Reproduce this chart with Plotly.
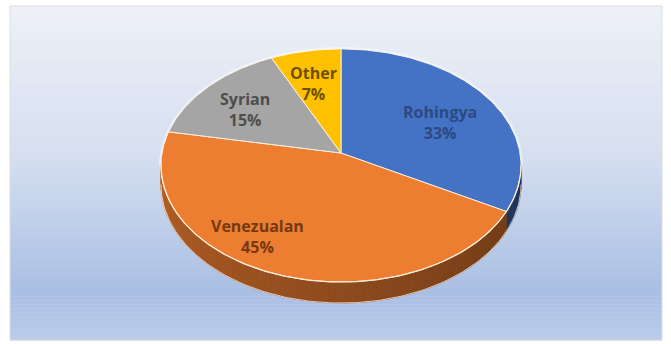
import numpy as np
import plotly.graph_objects as go

# Refugee groups and their shares (%)
groups = ["Rohingya", "Venezualan", "Syrian", "Other"]
shares = [33, 45, 15, 7]

slice_colors = ["#4472c4", "#ed7d31", "#a5a5a5", "#ffc000"]
label_colors = ["#2b4a82", "#76390f", "#4d4d4d", "#6c5200"]
# label placement inside each slice: (fraction along the slice, radius)
label_place = [(0.54, 0.63), (0.58, 0.80), (0.45, 0.68), (0.43, 0.67)]

W, H = 671, 344

# tilted disc with a little perspective
CX, CY = 341.0, 153.0     # centre of the disc on screen
AX, BY = 179.0, 115.2     # horizontal / vertical half-axes
K = 0.107                 # perspective strength
DEPTH = 18.8              # thickness of the disc


def project(theta_deg, r=1.0, drop=0.0):
    t = np.radians(theta_deg)
    X = r * np.cos(t)
    Y = r * np.sin(t)
    s = 1.0 / (1.0 + K * Y)
    return CX + AX * X * s, CY - BY * Y * s + drop * s


def hex_rgb(h):
    h = h.lstrip("#")
    return np.array([int(h[i:i + 2], 16) for i in (0, 2, 4)], dtype=float)


def rgb_str(c):
    c = np.clip(c, 0, 255).astype(int)
    return "rgb(%d,%d,%d)" % tuple(c)


fig = go.Figure()

# ---- gradient panel behind the chart
stops = [(0.0, "#eef1f8"), (0.45, "#d6dff0"), (0.86, "#a9bfe4"), (1.0, "#bccdeb")]
px0, px1, py0, py1 = 10, 662, 6, 340
n_strips = 84
for i in range(n_strips):
    f0 = i / n_strips
    f1 = (i + 1) / n_strips
    fm = (f0 + f1) / 2
    for (a, ca), (b, cb) in zip(stops[:-1], stops[1:]):
        if a <= fm <= b:
            u = (fm - a) / (b - a)
            col = hex_rgb(ca) * (1 - u) + hex_rgb(cb) * u
            break
    fig.add_shape(type="rect", xref="x", yref="y", layer="below",
                  x0=px0, x1=px1, y0=py0 + f0 * (py1 - py0),
                  y1=py0 + f1 * (py1 - py0) + 0.6,
                  fillcolor=rgb_str(col), line=dict(width=0))
fig.add_shape(type="rect", xref="x", yref="y", layer="below",
              x0=px0, x1=px1, y0=py0, y1=py1,
              fillcolor="rgba(0,0,0,0)", line=dict(color="#d9dde4", width=1))

# ---- slice angles (standard orientation, clockwise from 12 o'clock)
total = float(sum(shares))
cum = np.concatenate([[0.0], np.cumsum(shares) / total])
theta_start = 90 - 360 * cum[:-1]
theta_end = 90 - 360 * cum[1:]

# visible front arc of the rim (between the outermost left and right points)
theta_left = -180 + np.degrees(np.arcsin(K))
theta_right = -np.degrees(np.arcsin(K))

# ---- side wall, shaded by position along the front arc
for i in range(len(groups)):
    hi, lo = theta_start[i], theta_end[i]
    for shift in (0, -360, 360):
        a = max(lo, theta_left + shift)
        b = min(hi, theta_right + shift)
        if b <= a:
            continue
        nseg = max(2, int((b - a) / 2.5))
        edges = np.linspace(b, a, nseg + 1)
        base = hex_rgb(slice_colors[i])
        for j in range(nseg):
            t0, t1 = edges[j], edges[j + 1]
            ts = np.linspace(t0, t1, 4)
            xt, yt = project(ts)
            xb, yb = project(ts[::-1], drop=DEPTH)
            mid = (t0 + t1) / 2 - shift
            u = (mid - theta_left) / (theta_right - theta_left)
            shade = 0.76 - 0.32 * u
            col = rgb_str(base * shade)
            fig.add_trace(go.Scatter(
                x=np.concatenate([xt, xb, xt[:1]]),
                y=np.concatenate([yt, yb, yt[:1]]),
                mode="lines", fill="toself", fillcolor=col,
                line=dict(color=col, width=0.8),
                hoverinfo="skip", showlegend=False))

# light edge along the bottom of the wall
tb = np.linspace(theta_left, theta_right, 200)
xb, yb = project(tb, drop=DEPTH)
fig.add_trace(go.Scatter(x=xb, y=yb, mode="lines",
                         line=dict(color="rgba(255,240,225,0.75)", width=1),
                         hoverinfo="skip", showlegend=False))

# soft glow around the back of the disc
tg = np.linspace(theta_right, theta_left + 360, 300)
xg, yg = project(tg)
fig.add_trace(go.Scatter(x=xg, y=yg, mode="lines",
                         line=dict(color="rgba(255,255,255,0.45)", width=4),
                         hoverinfo="skip", showlegend=False))

# ---- top face slices
for i, g in enumerate(groups):
    ts = np.linspace(theta_start[i], theta_end[i], max(8, int(shares[i] * 4)))
    xs, ys = project(ts)
    fig.add_trace(go.Scatter(
        x=np.concatenate([[CX], xs, [CX]]),
        y=np.concatenate([[CY], ys, [CY]]),
        mode="lines", fill="toself", fillcolor=slice_colors[i],
        line=dict(color="rgba(255,246,232,0.9)", width=1),
        hoverinfo="skip", showlegend=False, name=g))

# bevel highlight along the front rim
tr = np.linspace(theta_left, theta_right, 200)
xr, yr = project(tr)
fig.add_trace(go.Scatter(x=xr, y=yr, mode="lines",
                         line=dict(color="rgba(255,236,210,0.95)", width=1.3),
                         hoverinfo="skip", showlegend=False))

# ---- data labels
for i, g in enumerate(groups):
    frac, rad = label_place[i]
    t = theta_start[i] + frac * (theta_end[i] - theta_start[i])
    lx, ly = project(t, r=rad)
    pct = round(100 * shares[i] / total)
    fig.add_annotation(x=float(lx), y=float(ly), xref="x", yref="y",
                       text="<b>%s<br>%d%%</b>" % (g, pct), showarrow=False,
                       align="center", xanchor="center", yanchor="middle",
                       font=dict(family="Open Sans", size=16, color=label_colors[i]))

fig.update_layout(
    width=W, height=H,
    margin=dict(l=0, r=0, t=0, b=0),
    paper_bgcolor="white", plot_bgcolor="rgba(0,0,0,0)",
    xaxis=dict(range=[0, W], visible=False, fixedrange=True),
    yaxis=dict(range=[H, 0], visible=False, fixedrange=True),
    showlegend=False,
)

fig.write_html("out.html")
